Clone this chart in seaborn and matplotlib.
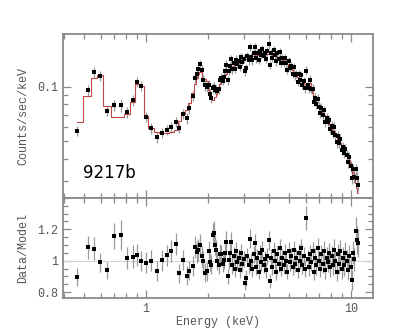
import numpy as np
import pandas as pd
import matplotlib
matplotlib.use("Agg")
import matplotlib.pyplot as plt
import seaborn as sns
from matplotlib.ticker import LogLocator, NullFormatter, MultipleLocator

# spectrum of source 9217b: energy (keV), counts/sec/keV, folded model, data/model, fractional error
energy = [
    0.462, 0.519, 0.556, 0.595, 0.645, 0.700, 0.753, 0.808, 0.861, 0.904,
    0.945, 1.000, 1.054, 1.128, 1.193, 1.262, 1.329, 1.396, 1.454, 1.510,
    1.580, 1.626, 1.689, 1.734, 1.768, 1.799, 1.834, 1.865, 1.903, 1.941,
    1.977,
    2.02, 2.05, 2.08, 2.11, 2.14, 2.17, 2.20, 2.23, 2.26, 2.29,
    2.33, 2.36, 2.39, 2.43, 2.46, 2.50, 2.53, 2.57, 2.60, 2.64,
    2.68, 2.71, 2.75, 2.79, 2.83, 2.87, 2.91, 2.95, 2.99, 3.03,
    3.08, 3.12, 3.16, 3.21, 3.25, 3.30, 3.35, 3.39, 3.44, 3.49,
    3.54, 3.59, 3.64, 3.69, 3.74, 3.80, 3.85, 3.91, 3.96, 4.02,
    4.07, 4.13, 4.19, 4.25, 4.31, 4.37, 4.43, 4.50, 4.56, 4.62,
    4.69, 4.76, 4.82, 4.89, 4.96, 5.03, 5.10, 5.18, 5.25, 5.32,
    5.40, 5.48, 5.55, 5.63, 5.71, 5.79, 5.88, 5.96, 6.05, 6.13,
    6.22, 6.31, 6.40, 6.49, 6.58, 6.68, 6.77, 6.87, 6.97, 7.07,
    7.17, 7.27, 7.37, 7.48, 7.59, 7.70, 7.81, 7.92, 8.03, 8.15,
    8.26, 8.38, 8.50, 8.62, 8.75, 8.87, 9.00, 9.13, 9.26, 9.39,
    9.53, 9.66, 9.80, 9.94, 10.08, 10.23, 10.37, 10.52, 10.67, 10.82,
]

counts = [
    0.0571, 0.0959, 0.1200, 0.1150, 0.0734, 0.0792, 0.0792, 0.0722, 0.0841, 0.1066,
    0.1013, 0.0683, 0.0589, 0.0526, 0.0557, 0.0576, 0.0597, 0.0640, 0.0594, 0.0707,
    0.0669, 0.0760, 0.0889, 0.1120, 0.1180, 0.1260, 0.1330, 0.1240, 0.1090, 0.1020,
    0.1000,
    0.1022, 0.0915, 0.0862, 0.0989, 0.0999, 0.0965, 0.0970, 0.0949, 0.0968, 0.1085,
    0.1123, 0.1081, 0.1136, 0.1217, 0.1319, 0.1084, 0.1228, 0.1307, 0.1419, 0.1251,
    0.1349, 0.1254, 0.1415, 0.1334, 0.1387, 0.1293, 0.1458, 0.1372, 0.1423, 0.1219,
    0.1273, 0.1481, 0.1404, 0.1661, 0.1464, 0.1399, 0.1539, 0.1651, 0.1435, 0.1532,
    0.1402, 0.1586, 0.1498, 0.1621, 0.1472, 0.1536, 0.1433, 0.1569, 0.1716, 0.1317,
    0.1540, 0.1446, 0.1591, 0.1497, 0.1380, 0.1529, 0.1428, 0.1557, 0.1357, 0.1443,
    0.1357, 0.1444, 0.1355, 0.1239, 0.1388, 0.1275, 0.1299, 0.1184, 0.1293, 0.1160,
    0.1181, 0.1066, 0.1173, 0.1097, 0.1166, 0.1029, 0.1075, 0.0980, 0.1230, 0.1018,
    0.0979, 0.1096, 0.0975, 0.0976, 0.0827, 0.0869, 0.0800, 0.0861, 0.0775, 0.0718,
    0.0764, 0.0702, 0.0740, 0.0636, 0.0673, 0.0636, 0.0655, 0.0584, 0.0610, 0.0558,
    0.0599, 0.0544, 0.0492, 0.0535, 0.0489, 0.0515, 0.0447, 0.0467, 0.0431, 0.0454,
    0.0419, 0.0384, 0.0408, 0.0364, 0.0314, 0.0351, 0.0317, 0.0350, 0.0312, 0.0287,
]

model = [
    0.0637, 0.0884, 0.1114, 0.1160, 0.0783, 0.0680, 0.0680, 0.0710, 0.0820, 0.1030,
    0.1010, 0.0690, 0.0589, 0.0564, 0.0556, 0.0557, 0.0561, 0.0578, 0.0645, 0.0703,
    0.0740, 0.0812, 0.0918, 0.1030, 0.1120, 0.1180, 0.1210, 0.1210, 0.1090, 0.1100,
    0.1070,
    0.0964, 0.0924, 0.0885, 0.0848, 0.0849, 0.0877, 0.0907, 0.0949, 0.0994, 0.1040,
    0.1077, 0.1103, 0.1129, 0.1160, 0.1178, 0.1204, 0.1221, 0.1246, 0.1267, 0.1290,
    0.1310, 0.1320, 0.1335, 0.1347, 0.1360, 0.1376, 0.1389, 0.1400, 0.1409, 0.1418,
    0.1430, 0.1438, 0.1447, 0.1457, 0.1464, 0.1473, 0.1480, 0.1487, 0.1495, 0.1502,
    0.1507, 0.1510, 0.1513, 0.1515, 0.1518, 0.1521, 0.1524, 0.1523, 0.1519, 0.1514,
    0.1510, 0.1506, 0.1501, 0.1497, 0.1484, 0.1470, 0.1457, 0.1442, 0.1428, 0.1415,
    0.1399, 0.1375, 0.1355, 0.1332, 0.1309, 0.1288, 0.1261, 0.1233, 0.1208, 0.1184,
    0.1158, 0.1134, 0.1117, 0.1097, 0.1080, 0.1061, 0.1044, 0.1032, 0.1019, 0.1008,
    0.1020, 0.1054, 0.0985, 0.0921, 0.0889, 0.0852, 0.0825, 0.0797, 0.0775, 0.0756,
    0.0735, 0.0716, 0.0698, 0.0677, 0.0660, 0.0642, 0.0624, 0.0608, 0.0592, 0.0575,
    0.0560, 0.0544, 0.0529, 0.0514, 0.0499, 0.0486, 0.0471, 0.0458, 0.0444, 0.0432,
    0.0419, 0.0408, 0.0396, 0.0379, 0.0357, 0.0334, 0.0314, 0.0294, 0.0276, 0.0259,
]

ratio = [
    0.896, 1.085, 1.077, 0.990, 0.938, 1.155, 1.164, 1.017, 1.026, 1.034,
    1.000, 0.987, 1.000, 0.932, 1.002, 1.034, 1.064, 1.107, 0.921, 1.006,
    0.904, 0.936, 0.968, 1.085, 1.053, 1.066, 1.102, 1.027, 0.996, 0.925,
    0.932,
    1.060, 0.990, 0.974, 1.166, 1.177, 1.100, 1.070, 1.000, 0.974, 1.043,
    1.043, 0.980, 1.006, 1.049, 1.120, 0.900, 1.006, 1.049, 1.120, 0.970,
    1.030, 0.950, 1.060, 0.990, 1.020, 0.940, 1.050, 0.980, 1.010, 0.860,
    0.890, 1.030, 0.970, 1.140, 1.000, 0.950, 1.040, 1.110, 0.960, 1.020,
    0.930, 1.050, 0.990, 1.070, 0.970, 1.010, 0.940, 1.030, 1.130, 0.870,
    1.020, 0.960, 1.060, 1.000, 0.930, 1.040, 0.980, 1.080, 0.950, 1.020,
    0.970, 1.050, 1.000, 0.930, 1.060, 0.990, 1.030, 0.960, 1.070, 0.980,
    1.020, 0.940, 1.050, 1.000, 1.080, 0.970, 1.030, 0.950, 1.270, 1.010,
    0.960, 1.040, 0.990, 1.060, 0.930, 1.020, 0.970, 1.080, 1.000, 0.950,
    1.040, 0.980, 1.060, 0.940, 1.020, 0.990, 1.050, 0.960, 1.030, 0.970,
    1.070, 1.000, 0.930, 1.040, 0.980, 1.060, 0.950, 1.020, 0.970, 1.050,
    1.000, 0.940, 1.030, 0.960, 0.880, 1.050, 1.010, 1.190, 1.130, 1.110,
]

frac_err = [
    0.062, 0.068, 0.066, 0.061, 0.060, 0.072, 0.080, 0.068, 0.072, 0.068,
    0.065, 0.068, 0.066, 0.068, 0.066, 0.064, 0.066, 0.064, 0.066, 0.065,
    0.066, 0.064, 0.066, 0.064, 0.066, 0.065, 0.064, 0.066, 0.064, 0.066,
    0.065,
    0.060, 0.058, 0.062, 0.065, 0.066, 0.060, 0.058, 0.056, 0.060, 0.058,
    0.056, 0.055, 0.058, 0.056, 0.060, 0.055, 0.057, 0.055, 0.058, 0.054,
    0.056, 0.053, 0.055, 0.052, 0.056, 0.054, 0.053, 0.055, 0.052, 0.056,
    0.054, 0.052, 0.055, 0.053, 0.051, 0.054, 0.052, 0.055, 0.051, 0.053,
    0.052, 0.050, 0.054, 0.052, 0.051, 0.053, 0.050, 0.052, 0.054, 0.051,
    0.052, 0.050, 0.053, 0.051, 0.054, 0.052, 0.050, 0.053, 0.051, 0.052,
    0.053, 0.051, 0.054, 0.052, 0.055, 0.053, 0.051, 0.054, 0.052, 0.055,
    0.053, 0.056, 0.054, 0.052, 0.055, 0.057, 0.054, 0.056, 0.060, 0.055,
    0.057, 0.055, 0.058, 0.056, 0.059, 0.057, 0.060, 0.058, 0.061, 0.059,
    0.060, 0.062, 0.059, 0.061, 0.063, 0.060, 0.062, 0.064, 0.061, 0.063,
    0.065, 0.062, 0.064, 0.066, 0.063, 0.065, 0.067, 0.064, 0.066, 0.068,
    0.066, 0.069, 0.067, 0.070, 0.072, 0.069, 0.073, 0.075, 0.078, 0.080,
]

df = pd.DataFrame({"energy": energy, "counts": counts, "model": model,
                   "ratio": ratio, "frac_err": frac_err})
df["counts_err"] = df["counts"] * df["frac_err"]
df["ratio_err"] = df["ratio"] * df["frac_err"]

sns.set_style("ticks")
plt.rcParams["font.family"] = ["Liberation Mono", "DejaVu Sans Mono"]

axis_grey = "#8a8a8a"
text_grey = "#555555"

fig = plt.figure(figsize=(4.15, 3.32), dpi=100)
ax1 = fig.add_axes([0.152, 0.404, 0.747, 0.495])
ax2 = fig.add_axes([0.152, 0.102, 0.747, 0.302])

# top: spectrum with folded model
ax1.errorbar(df["energy"], df["counts"], yerr=df["counts_err"], fmt="none",
             ecolor="#9a9a9a", elinewidth=0.9, zorder=2)
sns.lineplot(data=df, x="energy", y="model", ax=ax1, color="#c04848",
             linewidth=0.8, drawstyle="steps-mid", estimator=None, zorder=3)
sns.scatterplot(data=df, x="energy", y="counts", ax=ax1, color="black",
                marker="s", s=5, linewidth=0, zorder=4)

# bottom: ratio
ax2.axhline(1.0, color="#d4d4d4", linewidth=0.8, zorder=1)
ax2.errorbar(df["energy"], df["ratio"], yerr=df["ratio_err"], fmt="none",
             ecolor="#9a9a9a", elinewidth=0.9, zorder=2)
sns.scatterplot(data=df, x="energy", y="ratio", ax=ax2, color="black",
                marker="s", s=5, linewidth=0, zorder=4)

for ax in (ax1, ax2):
    ax.set_xscale("log")
    ax.set_xlim(0.394, 12.8)
    ax.set_xticks([1, 10])
    ax.xaxis.set_minor_locator(LogLocator(base=10, subs=np.arange(2, 10) * 1.0))
    ax.xaxis.set_minor_formatter(NullFormatter())
    ax.tick_params(which="both", direction="in", top=True, right=True,
                   color=axis_grey, labelcolor=text_grey, labelsize=8.5, width=0.9)
    ax.tick_params(which="major", length=6)
    ax.tick_params(which="minor", length=3.5)
    for sp in ax.spines.values():
        sp.set_color(axis_grey)
        sp.set_linewidth(1.3)

ax1.set_yscale("log")
ax1.set_ylim(0.0243, 0.197)
ax1.set_yticks([0.1])
ax1.set_yticklabels(["0.1"])
ax1.yaxis.set_minor_locator(LogLocator(base=10, subs=np.arange(2, 10) * 1.0))
ax1.yaxis.set_minor_formatter(NullFormatter())
ax1.set_xticklabels([])
ax1.set_xlabel("")
ax1.set_ylabel("Counts/sec/keV", color=text_grey, fontsize=8.5, labelpad=6)
ax1.text(0.064, 0.12, "9217b", transform=ax1.transAxes, fontsize=12,
         family="DejaVu Sans", color="black", va="baseline")

ax2.set_ylim(0.762, 1.40)
ax2.set_yticks([0.8, 1.0, 1.2])
ax2.set_yticklabels(["0.8", "1", "1.2"])
ax2.yaxis.set_minor_locator(MultipleLocator(0.05))
ax2.set_xticklabels(["1", "10"])
ax2.set_xlabel("Energy (keV)", color=text_grey, fontsize=8.5, labelpad=1)
ax2.set_ylabel("Data/Model", color=text_grey, fontsize=8.5, labelpad=6)

fig.savefig("out.png", dpi=100, facecolor="white")
